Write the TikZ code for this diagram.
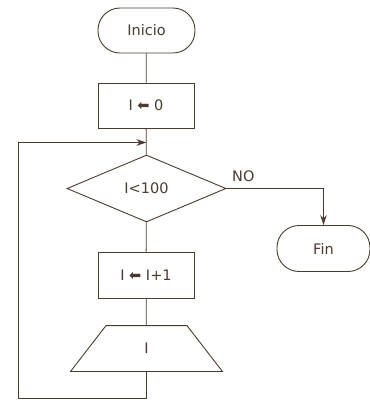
\documentclass[tikz,border=0pt]{standalone}
\usepackage{fontspec}
\setmainfont{DejaVu Sans}
\usetikzlibrary{shapes.geometric,arrows.meta}
\definecolor{ink}{HTML}{4B3A2F}
\tikzset{
  base/.style={draw=ink,line width=0.9pt,text=ink,inner sep=0pt,font=\fontsize{14.5}{17}\selectfont},
  term/.style={base,rectangle,rounded corners=22pt,minimum height=45pt},
  procbox/.style={base,rectangle,line width=0.7pt,minimum width=96pt,minimum height=45pt},
  decis/.style={base,diamond,minimum width=159pt,minimum height=67pt},
  outbox/.style={base,draw=none,rectangle,minimum width=151pt,minimum height=45pt},
  outline/.style={draw=ink,line width=0.9pt,line join=miter},
  conn/.style={draw=ink,line width=0.8pt},
  arr/.style={conn,-{Stealth[length=10pt,width=6.5pt]}},
  lbl/.style={text=ink,inner sep=0pt,font=\fontsize{14.5}{17}\selectfont}
}
\begin{document}
\begin{tikzpicture}[x=1pt,y=-1pt]
\useasboundingbox (0,0) rectangle (370,400);
\node[term,minimum width=97pt] (inicio) at (146.5,30.5) {Inicio};
\node[procbox] (init) at (146,105.5) {I ⬅ 0};
\node[decis] (cond) at (146.5,188.5) {I<100};
\node[procbox,minimum height=46pt] (inc) at (146,275) {I ⬅ I+1};
\node[outbox] (out) at (146.5,348.5) {I};
\draw[outline] (out.south west) -- (out.south east) -- ([xshift=-35.5pt]out.north east) -- ([xshift=35.5pt]out.north west) -- cycle;
\node[term,minimum width=93pt,minimum height=46pt] (fin) at (323.5,248.5) {Fin};
\coordinate (c1) at (146.5,398);
\coordinate (c2) at (18,142.5);
\coordinate (m) at (146.5,142.5);
\draw[conn] (inicio) -- (init);
\draw[conn] (init) -- (cond);
\draw[conn] (cond) -- (inc);
\draw[conn] (inc) -- (out);
\draw[arr] (out.south) -- (c1) -| (c2) -- (m);
\draw[arr] (cond.east) -| (fin.north);
\node[lbl,anchor=south west] (no) at (232,182) {NO};
\end{tikzpicture}
\end{document}
